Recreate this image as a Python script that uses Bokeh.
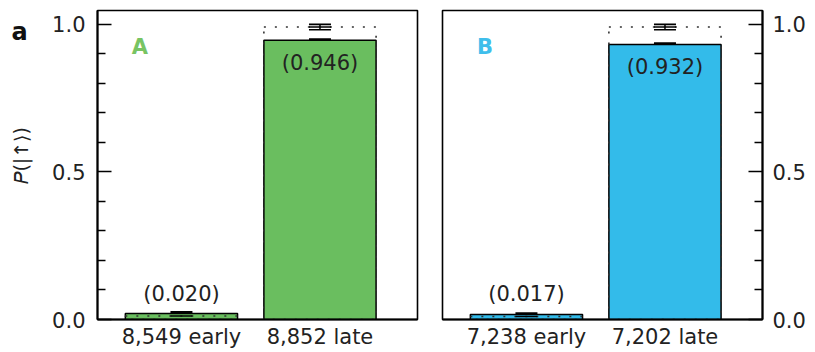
import math
from bokeh.plotting import figure
from bokeh.models import (Range1d, FixedTicker, Whisker, TeeHead,
                          ColumnDataSource, Label)
from bokeh.core.properties import value
from bokeh.layouts import row
from bokeh.embed import file_html
from bokeh.resources import INLINE

# ---- data ----
panel_names = ["A", "B"]
panel_colors = ["#6ABE5F", "#33BBEA"]
name_colors = ["#78C463", "#3FBEEB"]
categories_A = ["8,549 early", "8,852 late"]
categories_B = ["7,238 early", "7,202 late"]
prob_A = [0.020, 0.946]
prob_B = [0.017, 0.932]
err_A = [0.005, 0.004]
err_B = [0.004, 0.004]
corrected_A = [0.012, 0.991]
corrected_B = [0.010, 0.991]
corrected_err_A = [0.004, 0.009]
corrected_err_B = [0.004, 0.009]
y_ticks = [0.0, 0.5, 1.0]
y_minor = [0.1, 0.2, 0.3, 0.4, 0.6, 0.7, 0.8, 0.9]
y_title = "𝑃(|↑⟩)"
figure_letter = "a"

FONT = "DejaVu Sans"
FS = "21px"
TXT = "#222222"
H = 352


def make_panel(name, color, name_color, cats, probs, errs, corr, corr_err,
               side, left_border, right_border):
    xs = list(range(len(cats)))
    p = figure(frame_width=320, frame_height=309,
               x_range=Range1d(-0.606, 1.704), y_range=Range1d(0, 1.047),
               output_backend="svg", toolbar_location=None,
               y_axis_location=side,
               min_border_left=left_border, min_border_right=right_border,
               min_border_top=10, min_border_bottom=33)
    p.background_fill_color = "white"
    p.border_fill_color = "white"
    p.outline_line_color = "black"
    p.outline_line_width = 1.6
    p.grid.visible = False

    # y axis with inward ticks
    ya = p.yaxis[0]
    ya.ticker = FixedTicker(ticks=y_ticks, minor_ticks=y_minor)
    ya.major_label_overrides = {t: f"{t:.1f}" for t in y_ticks}
    ya.major_tick_in = 14
    ya.major_tick_out = 0
    ya.minor_tick_in = 8
    ya.minor_tick_out = 0
    ya.axis_line_width = 2
    ya.major_tick_line_width = 1.6
    ya.minor_tick_line_width = 1.6
    ya.major_label_text_font = FONT
    ya.major_label_text_font_size = FS
    ya.major_label_text_color = TXT
    ya.major_label_standoff = 12 if side == "left" else 10

    # category axis at the bottom
    xa = p.xaxis[0]
    xa.ticker = FixedTicker(ticks=xs)
    xa.major_label_overrides = {i: c for i, c in enumerate(cats)}
    xa.major_tick_in = 0
    xa.major_tick_out = 0
    xa.minor_tick_line_color = None
    xa.axis_line_width = 2
    xa.major_label_text_font = FONT
    xa.major_label_text_font_size = FS
    xa.major_label_text_color = TXT
    xa.major_label_standoff = 5

    # measured bars
    p.vbar(x=xs, top=probs, bottom=0, width=0.81, fill_color=color,
           line_color="black", line_width=1.5)

    # corrected outline (dotted)
    p.vbar(x=xs, top=corr, bottom=0, width=0.81, fill_color=None,
           line_color="#333333", line_width=1.6, line_dash="2 9")

    # error bars on measured values
    src = ColumnDataSource(dict(x=xs, lo=[v - e for v, e in zip(probs, errs)],
                                hi=[v + e for v, e in zip(probs, errs)]))
    p.add_layout(Whisker(source=src, base="x", lower="lo", upper="hi",
                         line_color="black", line_width=2,
                         upper_head=TeeHead(size=22, line_width=2),
                         lower_head=TeeHead(size=22, line_width=2)))

    # error bars on corrected values
    csrc = ColumnDataSource(dict(x=xs, lo=[v - e for v, e in zip(corr, corr_err)],
                                 hi=[v + e for v, e in zip(corr, corr_err)]))
    p.add_layout(Whisker(source=csrc, base="x", lower="lo", upper="hi",
                         line_color="black", line_width=1.5,
                         upper_head=TeeHead(size=22, line_width=1.6),
                         lower_head=TeeHead(size=22, line_width=1.6)))
    p.rect(x=xs, y=corr, width=22, height=1.6, width_units="screen",
           height_units="screen", fill_color="black", line_color=None)

    # value labels: inside tall bars, above short ones
    labels = [f"({v:.3f})" for v in probs]
    baselines = ["top" if v > 0.5 else "bottom" for v in probs]
    offsets = [11 if v > 0.5 else -8 for v in probs]
    p.text(x=xs, y=probs, text=labels, text_align="center",
           text_baseline=baselines, y_offset=offsets,
           text_font=value(FONT), text_font_size=FS, text_color=TXT)

    # panel name
    p.add_layout(Label(x=-0.30, y=0.922, text=name, text_color=name_color,
                       text_font=FONT, text_font_size="21px",
                       text_font_style="bold", text_align="center",
                       text_baseline="middle"))
    return p


# narrow strip on the far left carrying the figure letter and the y title
strip_w = 35
strip = figure(width=strip_w, height=H, x_range=Range1d(0, strip_w),
               y_range=Range1d(H, 0), output_backend="svg",
               toolbar_location=None, min_border=0)
strip.axis.visible = False
strip.grid.visible = False
strip.outline_line_color = None
strip.background_fill_color = "white"
strip.border_fill_color = "white"
strip.text(x=[19], y=[25], text=[figure_letter], text_align="center",
           text_baseline="alphabetic", text_font=value(FONT),
           text_font_size="24px", text_font_style="bold", text_color="#111111")
strip.text(x=[20], y=[165], text=[y_title], angle=math.pi / 2,
           text_align="center", text_baseline="middle", text_font=value(FONT),
           text_font_size="19px", text_color=TXT)

p1 = make_panel(panel_names[0], panel_colors[0], name_colors[0], categories_A,
                prob_A, err_A, corrected_A, corrected_err_A, "left",
                97 - strip_w, 12)
p2 = make_panel(panel_names[1], panel_colors[1], name_colors[1], categories_B,
                prob_B, err_B, corrected_B, corrected_err_B, "right", 13, 53)

layout = row(strip, p1, p2)
open("out.html", "w").write(file_html(layout, INLINE))
